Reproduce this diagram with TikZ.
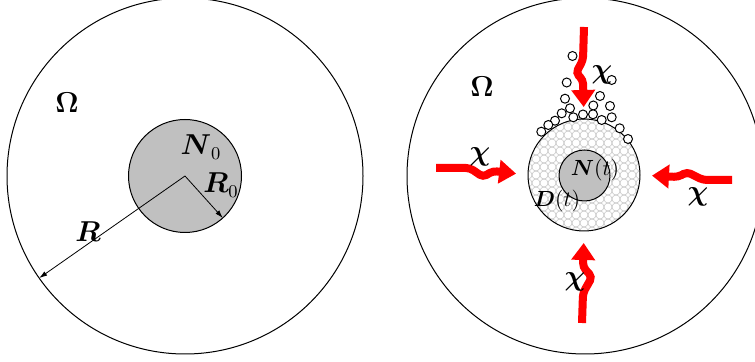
\documentclass[tikz,border=0pt]{standalone}
\usepackage{xcolor}
\usepackage{amsmath,amssymb}
\usepackage{tikz}
\usetikzlibrary{arrows.meta}
\definecolor{rojo}{RGB}{255,0,0}
\definecolor{nucleo}{RGB}{192,192,192}

\begin{document}
\begin{tikzpicture}[x=0.5pt, y=-0.5pt,
  borde/.style={circle, draw=black, line width=0.5pt, inner sep=0pt,
    outer sep=0pt, minimum size=#1},
  radio/.style={line width=0.4pt, -{Latex[length=4pt,width=2.5pt]}},
  flujo/.style={draw=rojo, line width=4pt, rounded corners=2pt,
    -{Triangle[length=8.5pt,width=11.5pt]}, shorten >=6pt},
  burbuja/.style={draw=black, fill=white, line width=0.5pt},
  etiq/.style={font=\fontsize{13.5}{16}\selectfont, inner sep=1pt},
  peq/.style={font=\fontsize{11}{13}\selectfont, inner sep=1pt},
  chi/.style={font=\Large, inner sep=1pt},
]
  \useasboundingbox (0,0) rectangle (755,362);
  \clip (0,0) rectangle (755,362);
  % ---- Dominio inicial (izquierda) ----
  \node[borde=178pt] (omL) at (185,176) {};
  \node[borde=56.5pt, fill=nucleo] (nL) at (185,176) {};
  \draw[radio] (nL.center) -- (omL.215);
  \draw[radio] (nL.center) -- (nL.312);
  \node[etiq] (tomL) at (67,103) {$\boldsymbol{\Omega}$};
  \node[etiq] (tnL) at (201,147) {$\boldsymbol{N}_0$};
  \node[etiq] (trL) at (221,185) {$\boldsymbol{R}_0$};
  \node[etiq] (tRL) at (88,232) {$\boldsymbol{R}$};
  % ---- Dominio con difusion (derecha) ----
  \begin{scope}
    \clip (584,175) circle[radius=56];
    \foreach \i in {-7,...,7}
      \foreach \j in {-7,...,7}
        \draw[gray!45, line width=0.3pt] ({584+8*\i},{175+8*\j}) circle[radius=4];
  \end{scope}
  \node[borde=178pt] (omR) at (585,176) {};
  \node[borde=56pt] (dR) at (584,175) {};
  \node[borde=25.5pt, fill=nucleo] (nR) at (584.5,175.5) {};
  % burbujas sobre la zona D
  \foreach \x/\y in {572.5/56, 566.7/82.5, 611.7/80, 565/98.7, 600/96,
    570/108.3, 593.3/105.5, 610/106, 561.7/113.3, 583/114.5, 593/114.3,
    573.3/117.3, 555/120.7, 548.3/125, 541.3/131.7, 611.7/117.3,
    601.7/120, 619.7/128.3, 628/139}
    \draw[burbuja] (\x,\y) circle[radius=4.5];
  % ---- Flujos ----
  \coordinate (fT) at (584,27);
  \coordinate (fL) at (436,168);
  \coordinate (fR) at (732,180);
  \coordinate (fB) at (582,323);
  \draw[flujo] (fT) -- (583,60) -- (576,73) -- (583,80) -- (dR.north);
  \draw[flujo] (fL) -- (470,168) -- (483,177) -- (493,171) -- (dR.west);
  \draw[flujo] (fR) -- (703,180) -- (687,172) -- (678,177) -- (dR.east);
  \draw[flujo] (fB) -- (583,293) -- (592,277) -- (583,267) -- (dR.south);
  % Etiquetas
  \node[etiq] (tomR) at (482,87) {$\boldsymbol{\Omega}$};
  \node[peq] (tnR) at (595,170) {$\boldsymbol{N}(t)$};
  \node[peq] (tdR) at (557,201) {$\boldsymbol{D}(t)$};
  \node[chi] (xT) at (602,75) {$\boldsymbol{\chi}$};
  \node[chi] (xL) at (480,157) {$\boldsymbol{\chi}$};
  \node[chi] (xR) at (698,197) {$\boldsymbol{\chi}$};
  \node[chi] (xB) at (575,282) {$\boldsymbol{\chi}$};
\end{tikzpicture}
\end{document}
